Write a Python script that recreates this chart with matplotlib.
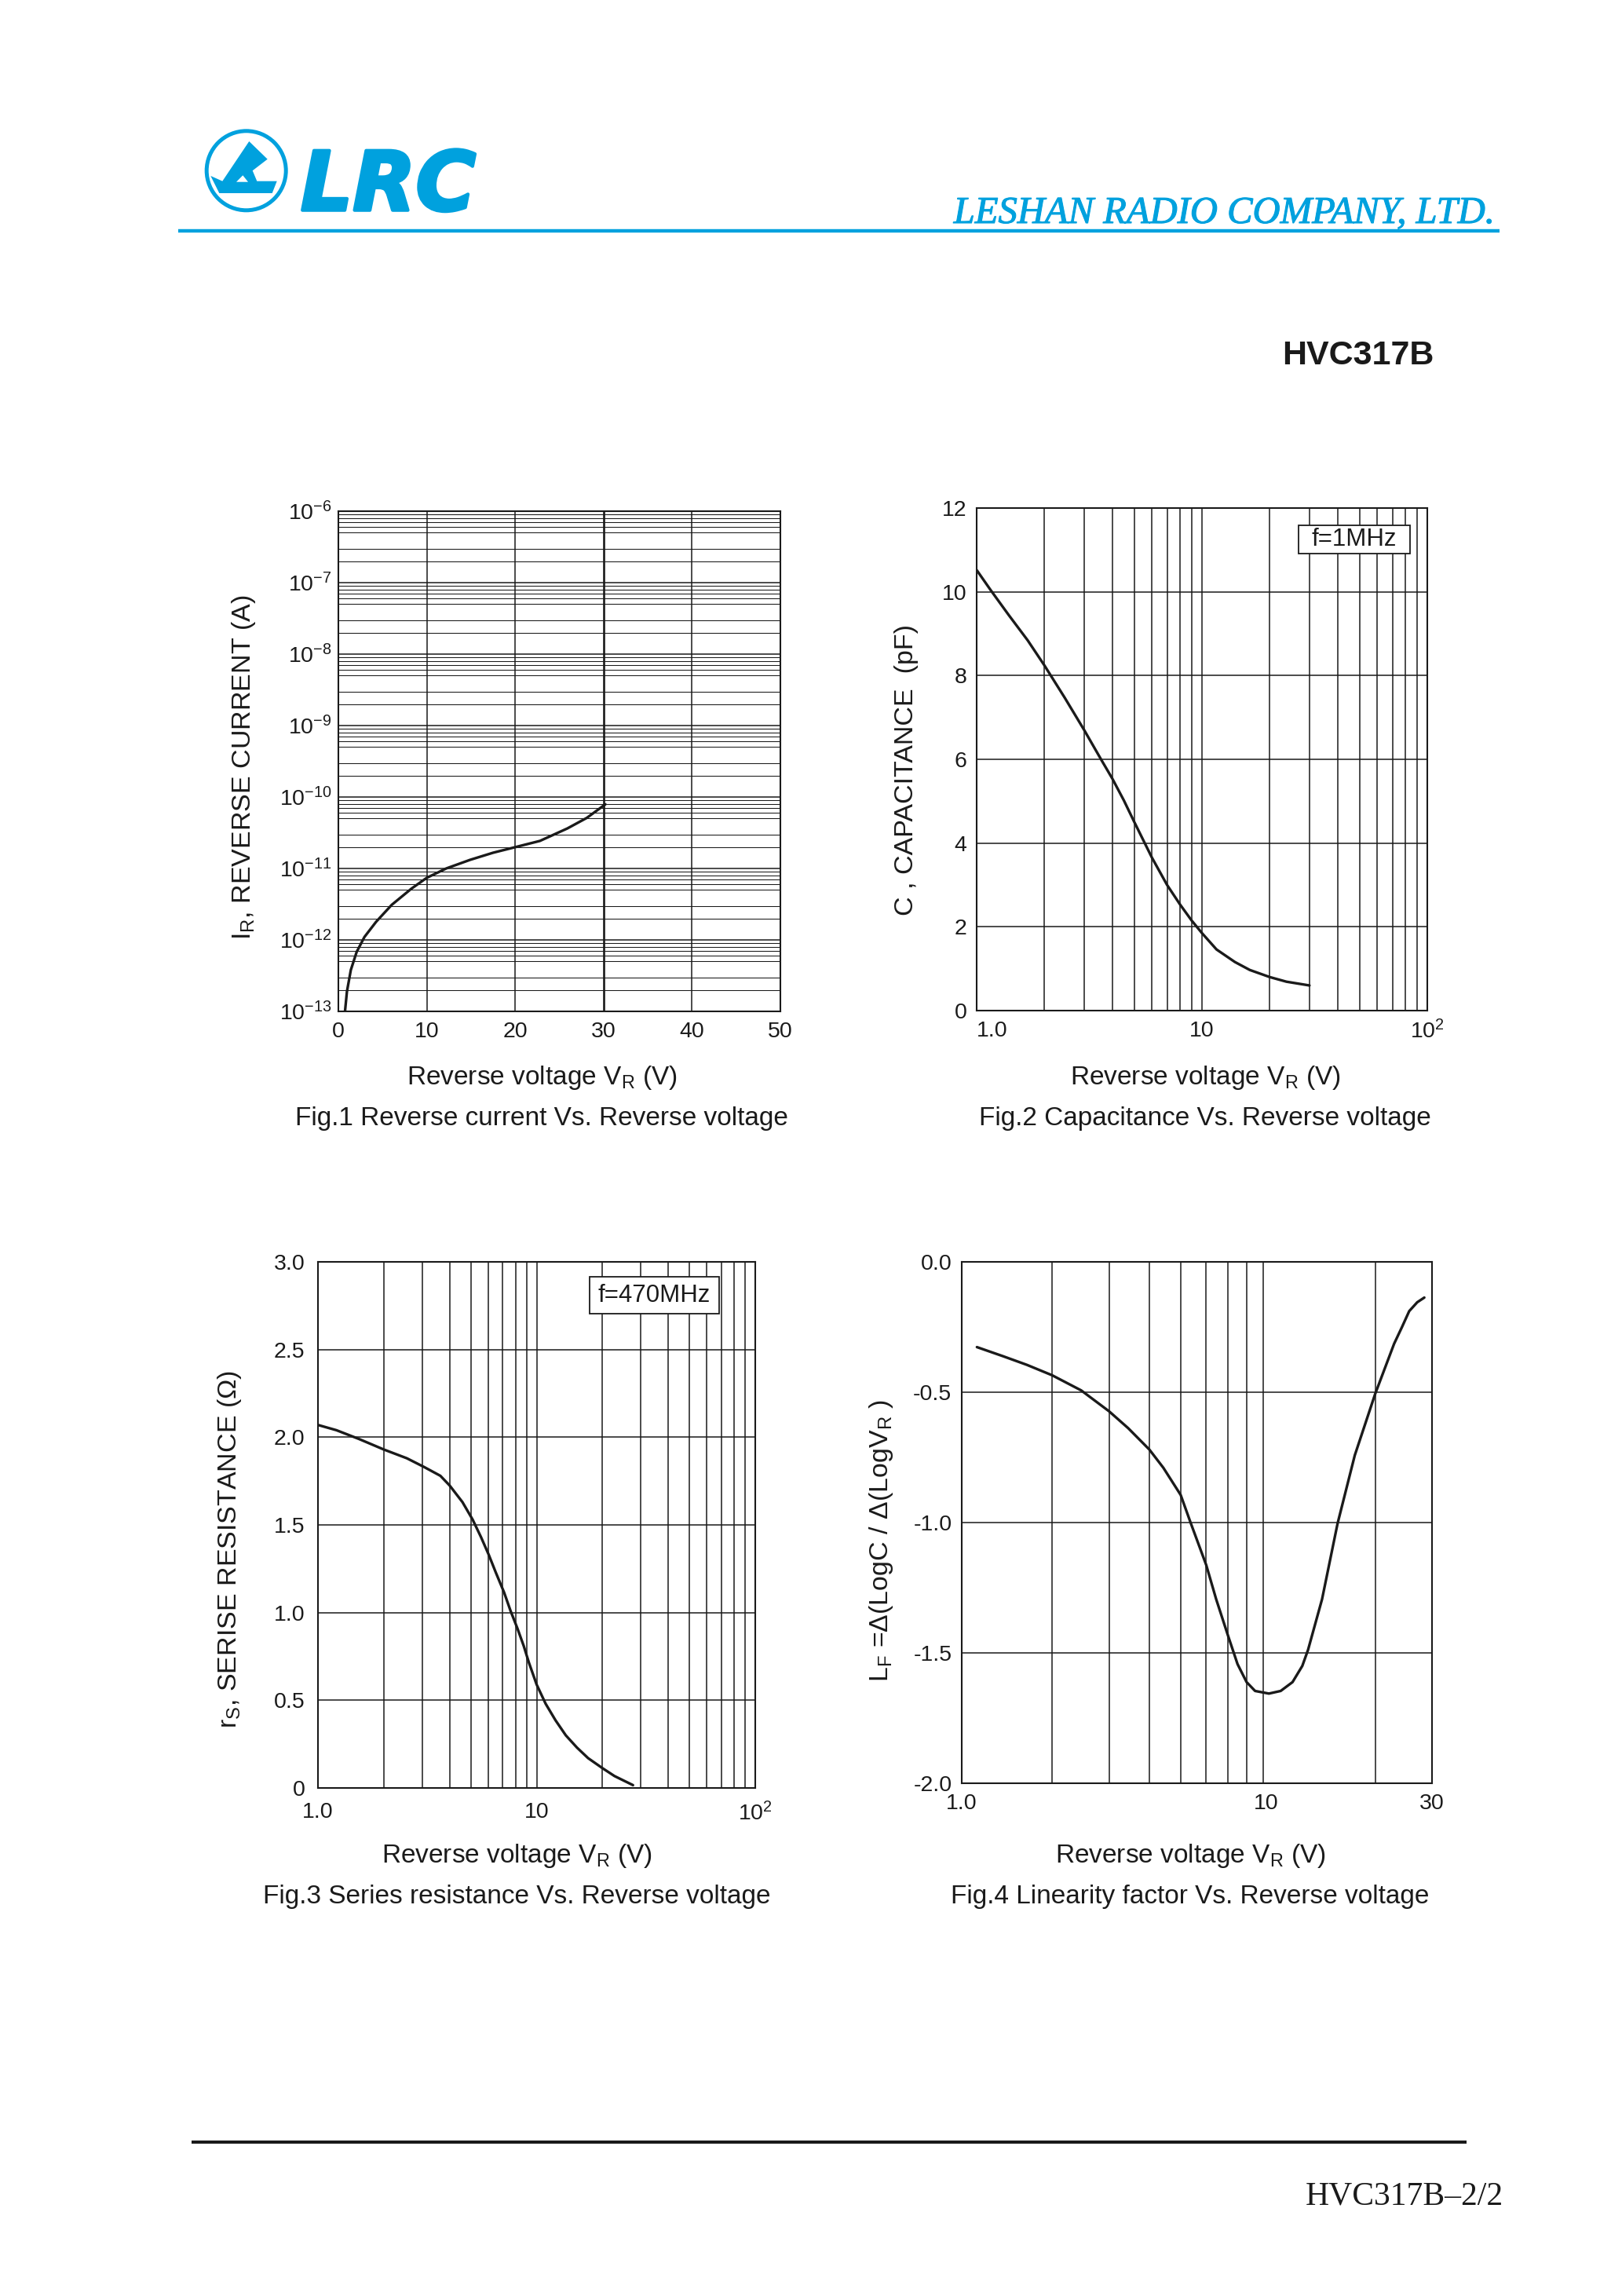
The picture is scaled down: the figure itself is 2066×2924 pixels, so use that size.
import numpy as np
import matplotlib
matplotlib.use('Agg')
import matplotlib.pyplot as plt
from matplotlib.ticker import FixedLocator, FixedFormatter, LogLocator, NullFormatter
from matplotlib.patches import Circle, Polygon, Rectangle
import matplotlib.patheffects as pe

plt.rcParams['font.family'] = ['Liberation Sans', 'DejaVu Sans']
plt.rcParams['mathtext.fontset'] = 'custom'
plt.rcParams['mathtext.rm'] = 'Liberation Sans'
plt.rcParams['mathtext.it'] = 'Liberation Sans'
plt.rcParams['mathtext.bf'] = 'Liberation Sans:bold'
plt.rcParams['mathtext.default'] = 'regular'

BLUE = '#00a1de'
INK = '#1a1a1a'
W, H = 2066, 2924

# Fig.1  reverse current vs reverse voltage
vr1 = [0.75, 0.97, 1.41, 2.07, 2.95, 4.28, 6.04, 8.25, 10.0, 12.2, 14.9,
       17.5, 20.1, 22.8, 25.9, 28.1, 30.2]
ir1 = [1.0e-13, 1.9e-13, 3.8e-13, 6.8e-13, 1.1e-12, 1.8e-12, 3.1e-12,
       5.2e-12, 7.4e-12, 1.0e-11, 1.32e-11, 1.66e-11, 2.0e-11, 2.43e-11,
       3.63e-11, 5.1e-11, 7.9e-11]

# Fig.2  capacitance vs reverse voltage (f=1MHz)
vr2 = [1.0, 1.154, 1.39, 1.685, 2.0, 2.46, 3.0, 3.59, 4.0, 4.5, 5.0, 6.0,
       7.0, 8.0, 9.0, 10.0, 11.6, 14.0, 16.3, 20.0, 23.7, 30.0]
cap2 = [10.52, 10.04, 9.44, 8.84, 8.24, 7.47, 6.70, 5.97, 5.54, 5.02, 4.51,
        3.65, 3.0, 2.53, 2.15, 1.85, 1.46, 1.16, 0.97, 0.80, 0.69, 0.60]

# Fig.3  series resistance vs reverse voltage (f=470MHz)
vr3 = [1.0, 1.215, 1.54, 2.0, 2.55, 3.06, 3.63, 4.0, 4.58, 5.1, 5.57, 6.04,
       6.5, 7.1, 7.6, 8.17, 8.73, 9.22, 10.0, 11.0, 12.2, 13.6, 15.3, 17.2,
       20.0, 22.7, 27.6]
rs3 = [2.07, 2.04, 1.99, 1.93, 1.88, 1.83, 1.78, 1.725, 1.63, 1.53, 1.43,
       1.33, 1.23, 1.115, 1.01, 0.91, 0.81, 0.715, 0.59, 0.48, 0.386, 0.30,
       0.23, 0.17, 0.113, 0.068, 0.016]

# Fig.4  linearity factor vs reverse voltage
vr4 = [1.17, 1.41, 1.67, 2.0, 2.46, 3.0, 3.44, 4.0, 4.42, 5.0, 5.38, 6.0,
       6.44, 7.0, 7.5, 8.0, 8.5, 9.38, 10.2, 11.1, 11.9, 12.4, 13.7, 15.3,
       17.3, 20.0, 22.9, 24.2, 25.5, 27.0, 28.4]
lf4 = [-0.327, -0.362, -0.395, -0.435, -0.493, -0.573, -0.638, -0.72,
       -0.79, -0.894, -1.004, -1.163, -1.294, -1.432, -1.543, -1.612,
       -1.646, -1.656, -1.646, -1.612, -1.55, -1.488, -1.294, -1.004,
       -0.742, -0.507, -0.314, -0.251, -0.189, -0.155, -0.137]

fig = plt.figure(figsize=(W / 100, H / 100), dpi=100)

# page decorations, drawn in pixel coordinates
deco = fig.add_axes([0, 0, 1, 1])
deco.set_xlim(0, W)
deco.set_ylim(H, 0)
deco.axis('off')
deco.add_patch(Circle((313.7, 217.3), 50.5, fill=False, ec=BLUE, lw=3.6))
sail = [(317.3, 180), (340.7, 202.7), (321.7, 217.3), (327.3, 230.7),
        (352.7, 230.7), (346.7, 246), (279.3, 246), (268.3, 224),
        (283.3, 230.7)]
deco.add_patch(Polygon(sail, closed=True, fc=BLUE, ec='none'))
deco.add_patch(Polygon([(301, 231.7), (309.3, 223.3), (316, 231.7)],
                       closed=True, fc='white', ec='none'))
deco.text(383, 267.7, 'LRC', color=BLUE, fontsize=75, fontweight='bold',
          style='oblique', family='DejaVu Sans', va='baseline', ha='left',
          path_effects=[pe.withStroke(linewidth=3, foreground=BLUE)])
deco.plot([227, 1910], [294, 294], color=BLUE, lw=3.2,
          solid_capstyle='butt')
deco.text(1904, 284, 'LESHAN RADIO COMPANY, LTD.', color=BLUE, fontsize=35,
          style='italic', family='Liberation Serif', ha='right',
          va='baseline',
          path_effects=[pe.withStroke(linewidth=0.8, foreground=BLUE)])
deco.text(1827, 464, 'HVC317B', fontsize=31, fontweight='bold', ha='right',
          va='baseline', color=INK)
deco.plot([244, 1868], [2728, 2728], color=INK, lw=2.9,
          solid_capstyle='butt')
deco.text(1915, 2808, 'HVC317B\u20132/2', fontsize=30,
          family='Liberation Serif', ha='right', va='baseline', color=INK)

TICK = 20.5
LAB = 24
CURVE = dict(color=INK, lw=2.4, solid_joinstyle='round',
             solid_capstyle='round')


def frame(ax):
    for s in ax.spines.values():
        s.set_linewidth(1.5)
        s.set_color(INK)
    ax.tick_params(which='both', length=0, labelsize=TICK, colors=INK)
    ax.tick_params(axis='y', pad=9)
    ax.tick_params(axis='x', pad=9)


def log_x(ax, lo, hi):
    ax.set_xscale('log')
    ax.set_xlim(lo, hi)
    ax.xaxis.set_minor_locator(LogLocator(base=10, subs=range(2, 10), numticks=20))
    ax.xaxis.set_minor_formatter(NullFormatter())


# Fig.1
ax1 = fig.add_axes([431 / W, 1 - 1288 / H, 563 / W, 637 / H])
ax1.plot(vr1, ir1, **CURVE)
ax1.set_yscale('log')
ax1.set_xlim(0, 50)
ax1.set_ylim(1e-13, 1e-6)
ax1.set_xticks([0, 10, 20, 30, 40, 50])
ax1.set_xticklabels(['0', '10', '20', '30', '40', '50'])
ax1.yaxis.set_major_locator(FixedLocator(10.0 ** np.arange(-13, -5)))
ax1.yaxis.set_major_formatter(FixedFormatter(
    ['$10^{-%d}$' % k for k in range(13, 5, -1)]))
ax1.yaxis.set_minor_locator(LogLocator(base=10, subs=[2, 3, 5, 6, 7, 8, 9],
                                       numticks=20))
ax1.yaxis.set_minor_formatter(NullFormatter())
ax1.grid(True, which='major', color=INK, lw=1.1)
ax1.grid(True, which='minor', axis='y', color=INK, lw=0.75)
ax1.get_xgridlines()[3].set_linewidth(1.9)
frame(ax1)
ax1.tick_params(axis='y', pad=6)

# Fig.2
ax2 = fig.add_axes([1244 / W, 1 - 1287 / H, 574 / W, 640 / H])
ax2.plot(vr2, cap2, **CURVE)
log_x(ax2, 1, 100)
ax2.set_ylim(0, 12)
ax2.set_xticks([1, 10, 100])
ax2.set_xticklabels(['1.0', '10', '$10^2$'])
ax2.get_xticklabels()[0].set_horizontalalignment('left')
ax2.set_yticks(range(0, 13, 2))
ax2.grid(True, which='both', color=INK, lw=1.1)
frame(ax2)
ax2.add_patch(Rectangle((0.714, 0.909), 0.248, 0.057, transform=ax2.transAxes,
                        fc='white', ec=INK, lw=1.3, zorder=3))
ax2.text(0.838, 0.9375, 'f=1MHz', transform=ax2.transAxes, ha='center',
         va='center', fontsize=22.5, zorder=4, color=INK)

# Fig.3
ax3 = fig.add_axes([405 / W, 1 - 2277 / H, 557 / W, 670 / H])
ax3.plot(vr3, rs3, **CURVE)
log_x(ax3, 1, 100)
ax3.set_ylim(0, 3)
ax3.set_xticks([1, 10, 100])
ax3.set_xticklabels(['1.0', '10', '$10^2$'])
ax3.set_yticks(np.arange(0, 3.01, 0.5))
ax3.set_yticklabels(['0', '0.5', '1.0', '1.5', '2.0', '2.5', '3.0'])
ax3.grid(True, which='both', color=INK, lw=1.1)
frame(ax3)
ax3.tick_params(axis='y', pad=12)
ax3.tick_params(axis='x', pad=13)
ax3.add_patch(Rectangle((0.621, 0.901), 0.296, 0.071, transform=ax3.transAxes,
                        fc='white', ec=INK, lw=1.3, zorder=3))
ax3.text(0.769, 0.9365, 'f=470MHz', transform=ax3.transAxes, ha='center',
         va='center', fontsize=22.5, zorder=4, color=INK)

# Fig.4
ax4 = fig.add_axes([1225 / W, 1 - 2271 / H, 599 / W, 664 / H])
ax4.plot(vr4, lf4, **CURVE)
ax4.set_xscale('log')
ax4.set_xlim(1.05, 30)
ax4.set_ylim(-2, 0)
ax4.set_xticks([1.05, 9.2, 30])
ax4.set_xticklabels(['1.0', '10', '30'])
ax4.xaxis.set_minor_locator(FixedLocator([2, 3, 4, 5, 6, 7, 8, 9, 20]))
ax4.xaxis.set_minor_formatter(NullFormatter())
ax4.set_yticks([-2, -1.5, -1, -0.5, 0])
ax4.set_yticklabels(['-2.0', '-1.5', '-1.0', '-0.5', '0.0'])
ax4.grid(True, which='minor', axis='x', color=INK, lw=1.1)
ax4.grid(True, which='major', axis='y', color=INK, lw=1.1)
frame(ax4)

# axis titles and captions
xlab = 'Reverse voltage V$_R$ (V)'
for cx, by, cap in [(690, 1381, 'Fig.1 Reverse current Vs. Reverse voltage'),
                    (1535, 1381, 'Fig.2 Capacitance Vs. Reverse voltage'),
                    (658, 2372, 'Fig.3 Series resistance Vs. Reverse voltage'),
                    (1516, 2372, 'Fig.4 Linearity factor Vs. Reverse voltage')]:
    deco.text(cx, by, xlab, fontsize=LAB, ha='center', va='baseline',
              color=INK)
    deco.text(cx, by + 52, cap, fontsize=LAB, ha='center', va='baseline',
              color=INK)

for cx, cy, lab in [(311, 977, 'I$_R$, REVERSE CURRENT (A)'),
                    (1155, 981, 'C , CAPACITANCE  (pF)'),
                    (293, 1973, 'r$_S$, SERISE RESISTANCE (\u03a9)'),
                    (1122, 1962, 'L$_F$ =\u0394(LogC / \u0394(LogV$_R$ )')]:
    deco.text(cx, cy, lab, fontsize=LAB + 0.5, rotation=90, ha='center',
              va='center', color=INK)

fig.savefig('out.png', dpi=100, facecolor='white')
